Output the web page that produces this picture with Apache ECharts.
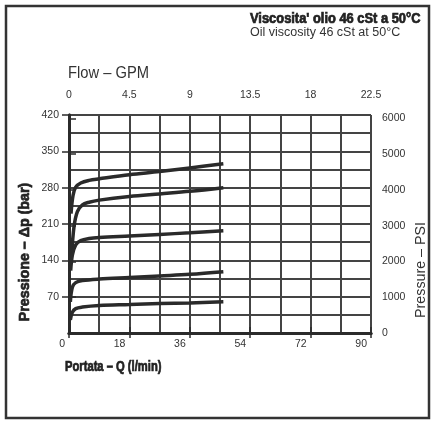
<!DOCTYPE html>
<html><head><meta charset="utf-8">
<script src="https://cdn.jsdelivr.net/npm/echarts@6/dist/echarts.min.js"></script>
<style>html,body{margin:0;padding:0;background:#fff}#c{width:431px;height:421px}</style>
</head><body><div id="c"></div>
<script>
// Data: flow Q (l/min) vs pressure drop (bar)
const curve1 = [[0.6,230],[1.2,265],[2,281],[3.5,289],[6,294],[9,297],[18,305],[27,311],[36,318],[46,326]];
const curve2 = [[0.8,150],[1.5,205],[2.5,234],[4,247],[6,252],[9,256],[18,263],[27,268],[36,273],[46,280]];
const curve3 = [[0.5,120],[1,150],[2,170],[3.5,178],[6,182],[9,184],[18,187],[27,190],[36,193],[46,197]];
const curve4 = [[0.4,60],[1,88],[2,97],[4,101],[9,104],[18,107],[27,110],[36,113],[46,118]];
const curve5 = [[0.4,25],[1,40],[2,47],[4,50],[9,53],[18,55],[27,57],[36,58],[46,60]];
const curves = [curve1, curve2, curve3, curve4, curve5];
const psiTicks = [0,1000,2000,3000,4000,5000,6000];
const BAR_TO_PSI = 14.5038;

const F = "'Liberation Sans',Arial,sans-serif";
const chart = echarts.init(document.getElementById('c'), null, {renderer:'canvas'});
const axisLine = {show:true, lineStyle:{color:'#2b2b2b', width:3}};
const grid = {left:69, right:60, top:115, bottom:88};
const lbl = {color:'#333', fontFamily:F, fontSize:10.5};
chart.setOption({
  animation:false,
  backgroundColor:'#ffffff',
  grid: grid,
  xAxis:[
    {type:'value', position:'bottom', min:0, max:90, interval:18,
     axisLine:axisLine,
     axisTick:{show:true, length:5, lineStyle:{color:'#2b2b2b', width:1.5}},
     axisLabel:Object.assign({}, lbl, {margin:6, align:'right', padding:[0,4,0,0]}),
     splitLine:{show:true, lineStyle:{color:'#444', width:2}},
     minorTick:{show:false, splitNumber:2},
     minorSplitLine:{show:true, lineStyle:{color:'#444', width:2}}},
    {type:'value', position:'top', min:0, max:22.5, interval:4.5,
     axisLine:axisLine,
     axisTick:{show:true, length:6, lineStyle:{color:'#2b2b2b', width:1.5}},
     axisLabel:Object.assign({}, lbl, {margin:14}),
     splitLine:{show:false}}
  ],
  yAxis:[
    {type:'value', position:'left', min:0, max:420, interval:70,
     axisLine:axisLine,
     axisTick:{show:true, length:7, lineStyle:{color:'#2b2b2b', width:1.5}},
     axisLabel:Object.assign({}, lbl, {margin:10, showMinLabel:false}),
     splitLine:{show:true, lineStyle:{color:'#444', width:2}},
     minorTick:{show:false, splitNumber:2},
     minorSplitLine:{show:true, lineStyle:{color:'#444', width:2}}},
    {type:'value', position:'right', min:0, max:420*BAR_TO_PSI,
     axisLine:axisLine,
     axisTick:{show:true, length:7, customValues:psiTicks, lineStyle:{color:'#2b2b2b', width:1.5}},
     axisLabel:Object.assign({}, lbl, {margin:11, customValues:psiTicks, formatter: v => String(Math.round(v))}),
     splitLine:{show:false}}
  ],
  series: curves.map(c => ({
    type:'line', xAxisIndex:0, yAxisIndex:0, data:c, smooth:0.35, symbol:'none',
    lineStyle:{color:'#2a2a2a', width:3.5}
  })),
  graphic:[
    {type:'rect', shape:{x:6, y:6, width:423, height:412}, style:{fill:'none', stroke:'#333', lineWidth:2.5}},
    {type:'text', x:250, y:12, scaleX:0.92, style:{text:"Viscosita' olio 46 cSt a 50°C", font:"bold 14px "+F, fill:'#222', stroke:'#222', lineWidth:0.7}},
    {type:'text', x:250, y:26, style:{text:"Oil viscosity 46 cSt at 50°C", font:"12.5px "+F, fill:'#333'}},
    {type:'text', x:68, y:66, scaleX:0.92, style:{text:"Flow – GPM", font:"16px "+F, fill:'#333'}},
    {type:'text', x:65, y:360, scaleX:0.8, style:{text:"Portata – Q (l/min)", font:"bold 14px "+F, fill:'#222', stroke:'#222', lineWidth:0.7}},
    {type:'text', x:25, y:252, rotation:Math.PI/2, scaleX:0.95, style:{text:"Pressione – Δp (bar)", font:"bold 15px "+F, fill:'#222', stroke:'#222', lineWidth:0.7, align:'center', verticalAlign:'middle'}},
    {type:'text', x:421, y:270, rotation:Math.PI/2, scaleX:0.95, style:{text:"Pressure – PSI", font:"15px "+F, fill:'#333', align:'center', verticalAlign:'middle'}}
  ]
});
</script></body></html>
